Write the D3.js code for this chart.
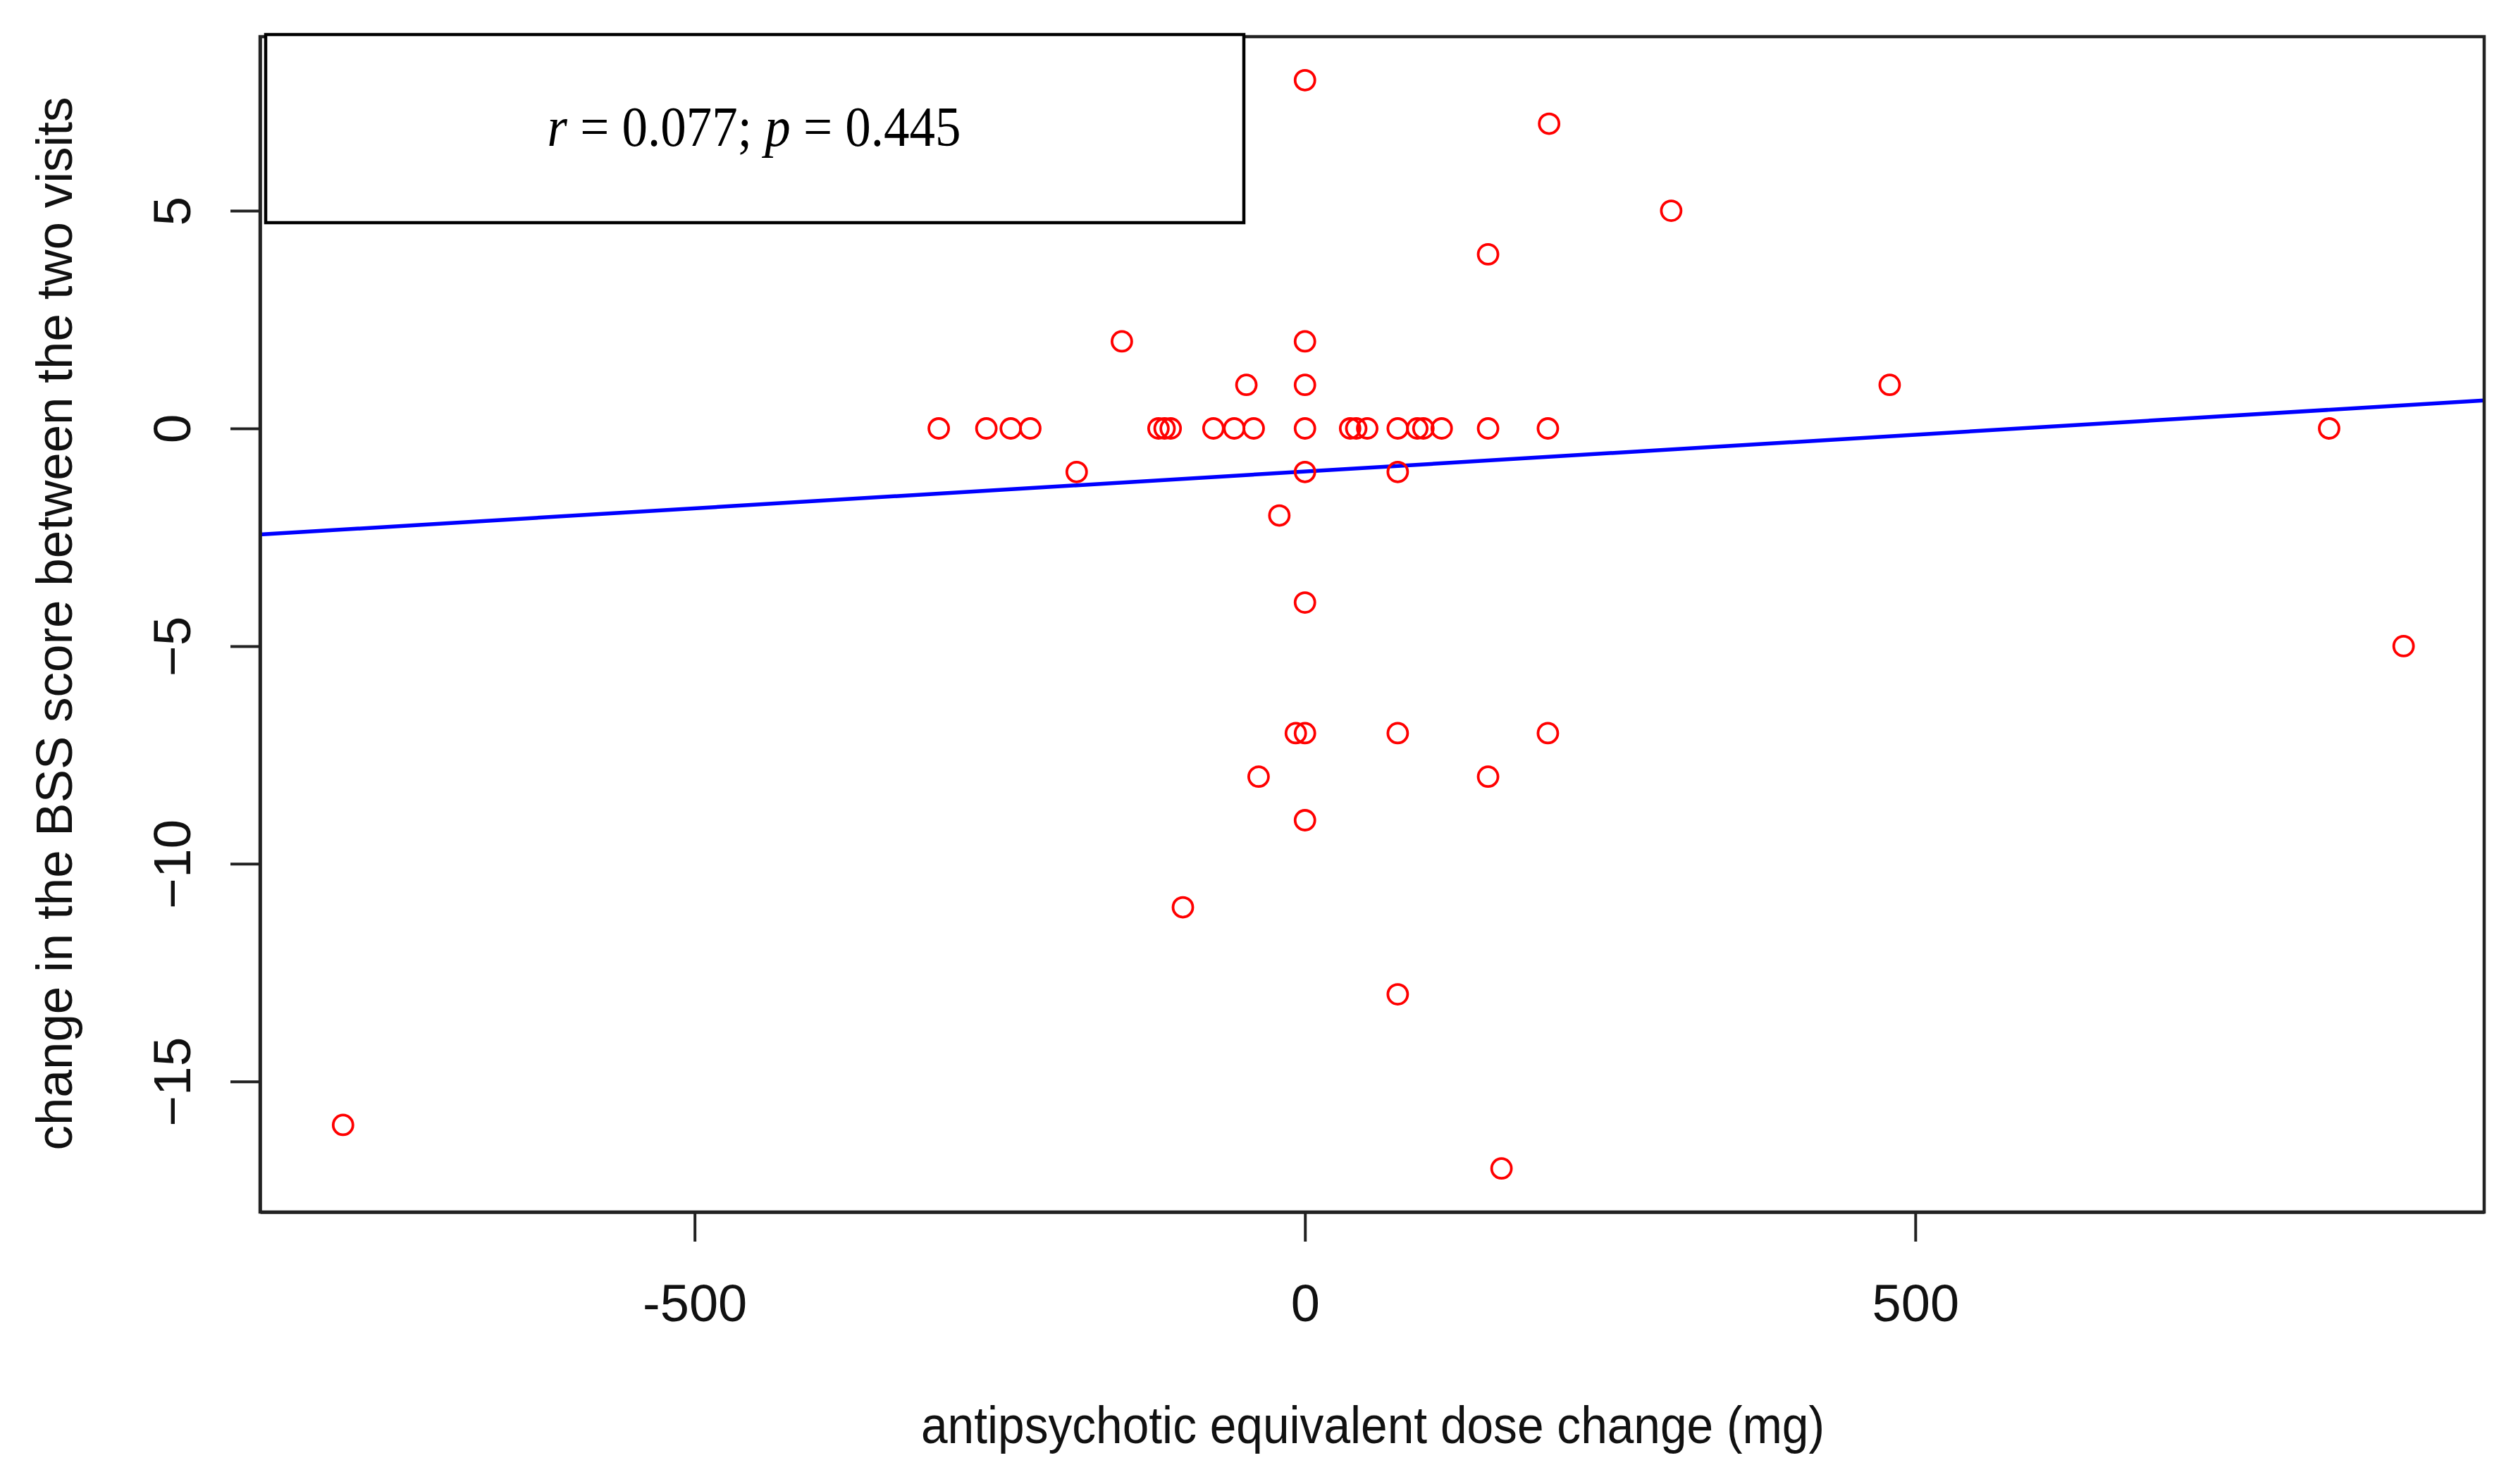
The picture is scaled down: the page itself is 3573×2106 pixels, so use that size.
<!DOCTYPE html>
<html>
<head>
<meta charset="utf-8">
<script src="https://cdn.jsdelivr.net/npm/d3@7"></script>
<style>
  body { margin: 0; background: #fff; }
  text { font-family: "Liberation Sans", Arial, sans-serif; }
</style>
</head>
<body>
<svg></svg>
<script>
var width  = 3573,
    height = 2106;

// dose change (mg) and BSS change
var doseChange = [0, 200, 300, 150,
                  -150, 0,
                  -48, 0, 479,
                  -300, -261, -241, -225, -120, -115, -110, -75, -58, -42, 0,
                  37, 42, 51, 76, 92, 97, 112, 150, 199, 839,
                  -187, 0, 76,
                  -21, 0, 900,
                  -7.5, 0, 76, 199,
                  -38, 150, 0, -100, 76, -788, 161];
var bssChange  = [8, 7, 5, 4,
                  2, 2,
                  1, 1, 1,
                  0, 0, 0, 0, 0, 0, 0, 0, 0, 0, 0,
                  0, 0, 0, 0, 0, 0, 0, 0, 0, 0,
                  -1, -1, -1,
                  -2, -4, -5,
                  -7, -7, -7, -7,
                  -8, -8, -9, -11, -13, -16, -17];

var xTicks = [-500, 0, 500];
var yTicks = [-15, -10, -5, 0, 5];

// fitted line
var fitIntercept = -0.99,
    fitSlope     = 0.00169;
var statText = [["r", true], [" = 0.077; ", false], ["p", true], [" = 0.445", false]];

var xLabel = "antipsychotic equivalent dose change (mg)";
var yLabel = "change in the BSS score between the two visits";

var plot = {left: 369, right: 3525, top: 52, bottom: 1720};

var x = d3.scaleLinear().domain([-856, 966]).range([plot.left, plot.right]);
var y = d3.scaleLinear().domain([-18, 9]).range([plot.bottom, plot.top]);

var svg = d3.select("svg")
  .attr("width", width)
  .attr("height", height);

var points = doseChange.map(function(d, i) { return [d, bssChange[i]]; });

// regression line
svg.append("line")
  .attr("x1", x(x.domain()[0]))
  .attr("y1", y(fitIntercept + fitSlope * x.domain()[0]))
  .attr("x2", x(x.domain()[1]))
  .attr("y2", y(fitIntercept + fitSlope * x.domain()[1]))
  .attr("stroke", "#0000ff")
  .attr("stroke-width", 5.5);

// points
svg.append("g").selectAll("circle")
  .data(points)
  .enter()
    .append("circle")
    .attr("cx", function(d) { return x(d[0]); })
    .attr("cy", function(d) { return y(d[1]); })
    .attr("r", 14)
    .attr("fill", "none")
    .attr("stroke", "#ff0000")
    .attr("stroke-width", 3.8);

// axes
var xAxis = svg.append("g")
  .attr("transform", "translate(0," + plot.bottom + ")")
  .call(d3.axisBottom(x).tickValues(xTicks).tickSize(42).tickSizeOuter(0).tickFormat(d3.format("d")));
xAxis.selectAll("text")
  .attr("y", 155).attr("dy", 0)
  .attr("font-size", 74).attr("fill", "#111")
  .text(function(d) { return String(d); });

var yAxis = svg.append("g")
  .attr("transform", "translate(" + plot.left + ",0)")
  .call(d3.axisLeft(y).tickValues(yTicks).tickSize(42).tickSizeOuter(0).tickFormat(d3.format("d")));
yAxis.selectAll("text")
  .attr("transform", "rotate(-90)")
  .attr("x", 0).attr("y", -99).attr("dy", 0)
  .attr("text-anchor", "middle")
  .attr("font-size", 75).attr("fill", "#111")
  .text(function(d) { return String(d).replace("-", "\u2212"); });

svg.selectAll(".tick line").attr("stroke", "#222").attr("stroke-width", 4);
svg.selectAll(".domain").attr("stroke", "#222").attr("stroke-width", 4.5);
svg.selectAll(".tick text").attr("font-family", "'Liberation Sans', Arial, sans-serif");

// box
svg.append("rect")
  .attr("x", plot.left).attr("y", plot.top)
  .attr("width", plot.right - plot.left).attr("height", plot.bottom - plot.top)
  .attr("fill", "none").attr("stroke", "#222").attr("stroke-width", 4.5);

// axis titles
svg.append("text")
  .attr("x", 1948).attr("y", 2048)
  .attr("text-anchor", "middle")
  .attr("font-size", 74).attr("fill", "#111")
  .attr("textLength", 1282).attr("lengthAdjust", "spacingAndGlyphs")
  .text(xLabel);

svg.append("text")
  .attr("transform", "translate(102,885) rotate(-90)")
  .attr("text-anchor", "middle")
  .attr("font-size", 73).attr("fill", "#111")
  .attr("textLength", 1495).attr("lengthAdjust", "spacingAndGlyphs")
  .text(yLabel);

// stats box
svg.append("rect")
  .attr("x", 377).attr("y", 49)
  .attr("width", 1388).attr("height", 267)
  .attr("fill", "#fff").attr("stroke", "#000").attr("stroke-width", 4.5);

svg.append("text")
  .attr("transform", "translate(1070,207) scale(0.912,1)")
  .attr("text-anchor", "middle")
  .attr("font-size", 80)
  .style("font-family", "'Liberation Serif', 'Times New Roman', serif")
  .selectAll("tspan")
  .data(statText)
  .enter()
    .append("tspan")
    .attr("font-style", function(d) { return d[1] ? "italic" : "normal"; })
    .text(function(d) { return d[0]; });
</script>
</body>
</html>
